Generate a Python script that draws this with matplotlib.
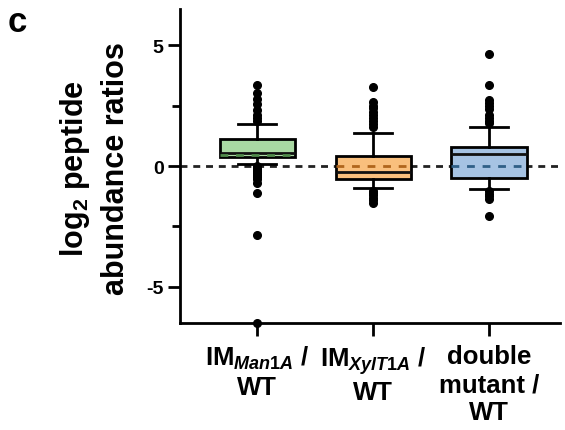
import matplotlib
matplotlib.use("Agg")
import matplotlib.pyplot as plt

plt.rcParams['font.family'] = 'Liberation Sans'
plt.rcParams['font.weight'] = 'bold'
plt.rcParams['mathtext.fontset'] = 'custom'
plt.rcParams['mathtext.rm'] = 'Liberation Sans:bold'
plt.rcParams['mathtext.it'] = 'Liberation Sans:italic'
plt.rcParams['mathtext.bf'] = 'Liberation Sans:bold'

# log2 ratios per comparison (box summary + outliers)
groups = [r"IM$_{\mathit{Man1A}}$ /" + "\nWT",
          r"IM$_{\mathit{XylT1A}}$ /" + "\nWT",
          "double\nmutant /\nWT"]
q1 = [0.38, -0.52, -0.50]
med = [0.54, -0.25, 0.49]
q3 = [1.13, 0.43, 0.79]
mean = [0.46, 0.02, 0.01]
whislo = [0.08, -0.89, -0.95]
whishi = [1.75, 1.38, 1.62]
fliers = [
    [3.34, 3.02, 2.78, 2.58, 2.3, 2.12, 1.98, 1.88,
     0.02, -0.06, -0.14, -0.22, -0.3, -0.38, -0.46, -0.52, -0.72, -1.12, -2.84, -6.5],
    [3.26, 2.64, 2.5, 2.38, 2.25, 2.12, 1.98, 1.86, 1.74, 1.6,
     -1.02, -1.12, -1.22, -1.32, -1.42, -1.55],
    [4.63, 3.36, 2.72, 2.6, 2.48, 2.36, 2.12, 2.0, 1.88, 1.76,
     -1.04, -1.14, -1.24, -1.36, -2.08],
]
fills = ['#a9d9a3', '#f9bf7d', '#a6c3e3']
mean_cols = ['#4f8a4a', '#b0651c', '#2f5f86']

stats = []
for i in range(3):
    stats.append(dict(med=med[i], q1=q1[i], q3=q3[i], whislo=whislo[i],
                      whishi=whishi[i], mean=mean[i], fliers=fliers[i]))

fig = plt.figure(figsize=(5.65, 4.31), dpi=100)
ax = fig.add_axes([0.319, 0.248, 0.672, 0.729])

ax.axhline(0, color='#222222', lw=2, ls=(0, (2.5, 2.1)), zorder=1)

lw = 2.0
bp = ax.bxp(stats, positions=[1, 2, 3], widths=0.65, patch_artist=True,
            showmeans=True, meanline=True,
            boxprops=dict(linewidth=lw, edgecolor='black'),
            medianprops=dict(color='#111111', linewidth=lw),
            whiskerprops=dict(linewidth=lw, color='black'),
            capprops=dict(linewidth=lw, color='black'),
            flierprops=dict(marker='o', markerfacecolor='black', markeredgecolor='black',
                            markersize=5.5, clip_on=False),
            capwidths=0.33)
for i, box in enumerate(bp['boxes']):
    box.set_facecolor(fills[i])
    box.set_zorder(2)
for i, m in enumerate(bp['means']):
    m.set_color(mean_cols[i])
    m.set_linestyle((0, (2.8, 2.8)))
    m.set_linewidth(2)
    m.set_zorder(3)
for art in bp['medians'] + bp['whiskers'] + bp['caps'] + bp['fliers']:
    art.set_zorder(3)

ax.set_xlim(0.336, 3.61)
ax.set_ylim(-6.5, 6.5)
ax.set_yticks([-5, 0, 5])
ax.set_yticklabels(['-5', '0', '5'])
ax.set_yticks([-2.5, 2.5], minor=True)
ax.set_xticks([1, 2, 3])
ax.set_xticklabels(groups, fontsize=18.5, linespacing=1.22, va='top')

for s in ['top', 'right']:
    ax.spines[s].set_visible(False)
for s in ['left', 'bottom']:
    ax.spines[s].set_linewidth(2)
ax.tick_params(axis='y', which='major', length=9, width=2, labelsize=14, pad=3)
ax.tick_params(axis='y', which='minor', length=6, width=2)
ax.tick_params(axis='x', length=9, width=2, pad=6)

fig.text(0.167, 0.609, "log$_2$ peptide\nabundance ratios", rotation=90,
         ha='center', va='center', fontsize=22, linespacing=1.4)
fig.text(0.014, 0.926, "c", fontsize=25, fontweight='bold', ha='left', va='baseline')

fig.savefig("out.png", dpi=100)
